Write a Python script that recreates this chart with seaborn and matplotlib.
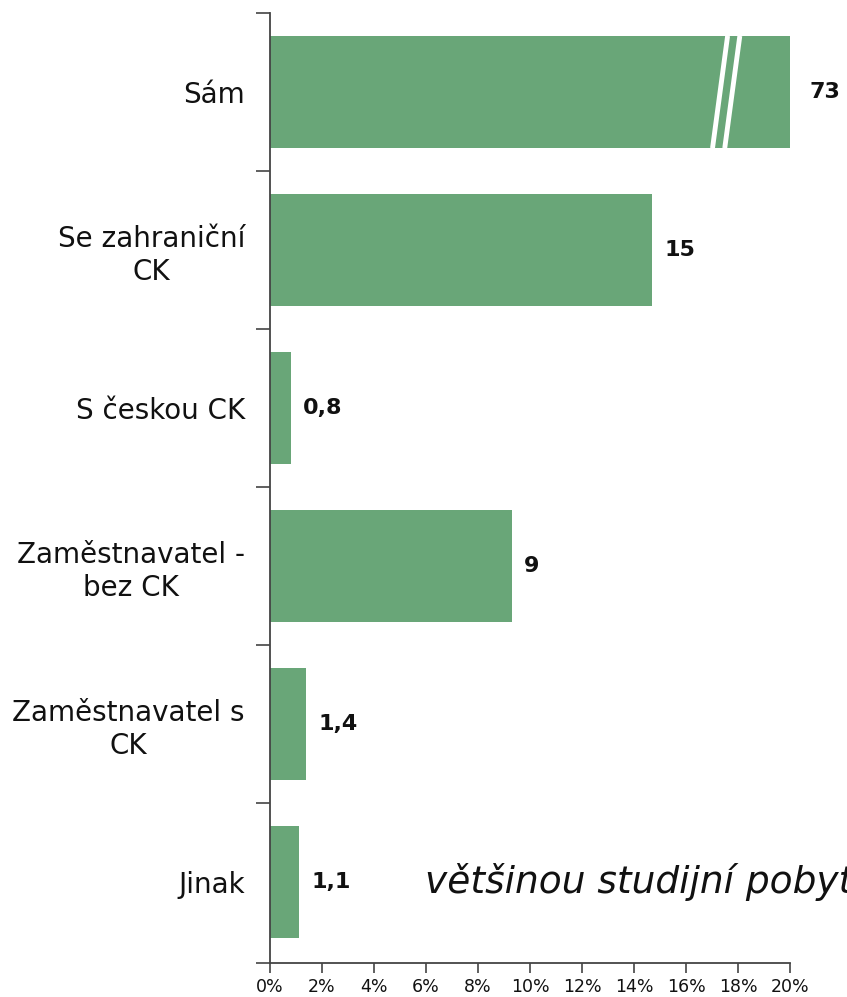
import matplotlib
matplotlib.use("Agg")
import matplotlib.pyplot as plt
import seaborn as sns
import numpy as np
import pandas as pd
from matplotlib.ticker import FixedLocator, FuncFormatter

categories = ["Sám", "Se zahraniční\nCK", "S českou CK", "Zaměstnavatel -\nbez CK",
              "Zaměstnavatel s\nCK", "Jinak"]
values = [73, 14.7, 0.8, 9.3, 1.4, 1.1]
value_labels = ["73", "15", "0,8", "9", "1,4", "1,1"]
x_ticks = [0, 2, 4, 6, 8, 10, 12, 14, 16, 18, 20]
axis_max = 20
note = "většinou studijní pobyt"

bar_color = "#69a678"

sns.set_theme(style="white")
plt.rcParams["font.family"] = ["DejaVu Sans"]

df = pd.DataFrame({"cat": categories, "val": [min(v, axis_max) for v in values]})

fig = plt.figure(figsize=(8.47, 9.97), dpi=100)
ax = fig.add_axes([270 / 847, 1 - 963 / 997, 520 / 847, 950 / 997])

sns.barplot(data=df, x="val", y="cat", orient="h", color=bar_color, width=0.71,
            saturation=1, ax=ax, edgecolor="none")

ax.set_xlim(0, axis_max)
ax.set_ylim(5.51, -0.5)
ax.set_xlabel("")
ax.set_ylabel("")

for s in ["top", "right"]:
    ax.spines[s].set_visible(False)
for s in ["left", "bottom"]:
    ax.spines[s].set_color("#444444")
    ax.spines[s].set_linewidth(1.3)

ax.set_xticks(x_ticks)
ax.xaxis.set_major_formatter(FuncFormatter(lambda v, p: f"{int(v)}%"))
ax.tick_params(axis="x", direction="out", length=7, width=1.2, color="#444444",
               labelsize=12.5, pad=4, bottom=True, labelcolor="#111111")

ax.tick_params(axis="y", which="major", length=0, pad=18, labelsize=20)
ax.yaxis.set_minor_locator(FixedLocator([-0.5, 0.5, 1.5, 2.5, 3.5, 4.5, 5.51]))
ax.tick_params(axis="y", which="minor", direction="out", length=10, width=1.2,
               color="#444444", left=True)
for lbl in ax.get_yticklabels():
    lbl.set_multialignment("center")
    lbl.set_color("#111111")

# value labels
for i, (v, lab) in enumerate(zip(values, value_labels)):
    xv = min(v, axis_max)
    ax.annotate(lab, (xv, i), xytext=(9 if v <= axis_max else 14, 0),
                textcoords="offset points", va="center", ha="left",
                fontsize=16, fontweight="bold", color="#111111",
                annotation_clip=False)

# axis break marks on capped bar
for i, v in enumerate(values):
    if v > axis_max:
        h = 0.71 / 2
        for dx in (0.0, 0.47):
            ax.plot([axis_max - 2.98 + dx, axis_max - 2.4 + dx], [i + h, i - h],
                    color="white", lw=3.5, solid_capstyle="butt", zorder=5)

ax.text(5.95, 5.0, note, fontsize=27, style="italic", color="#111111",
        va="center", ha="left", clip_on=False)

fig.savefig("out.png", dpi=100)
